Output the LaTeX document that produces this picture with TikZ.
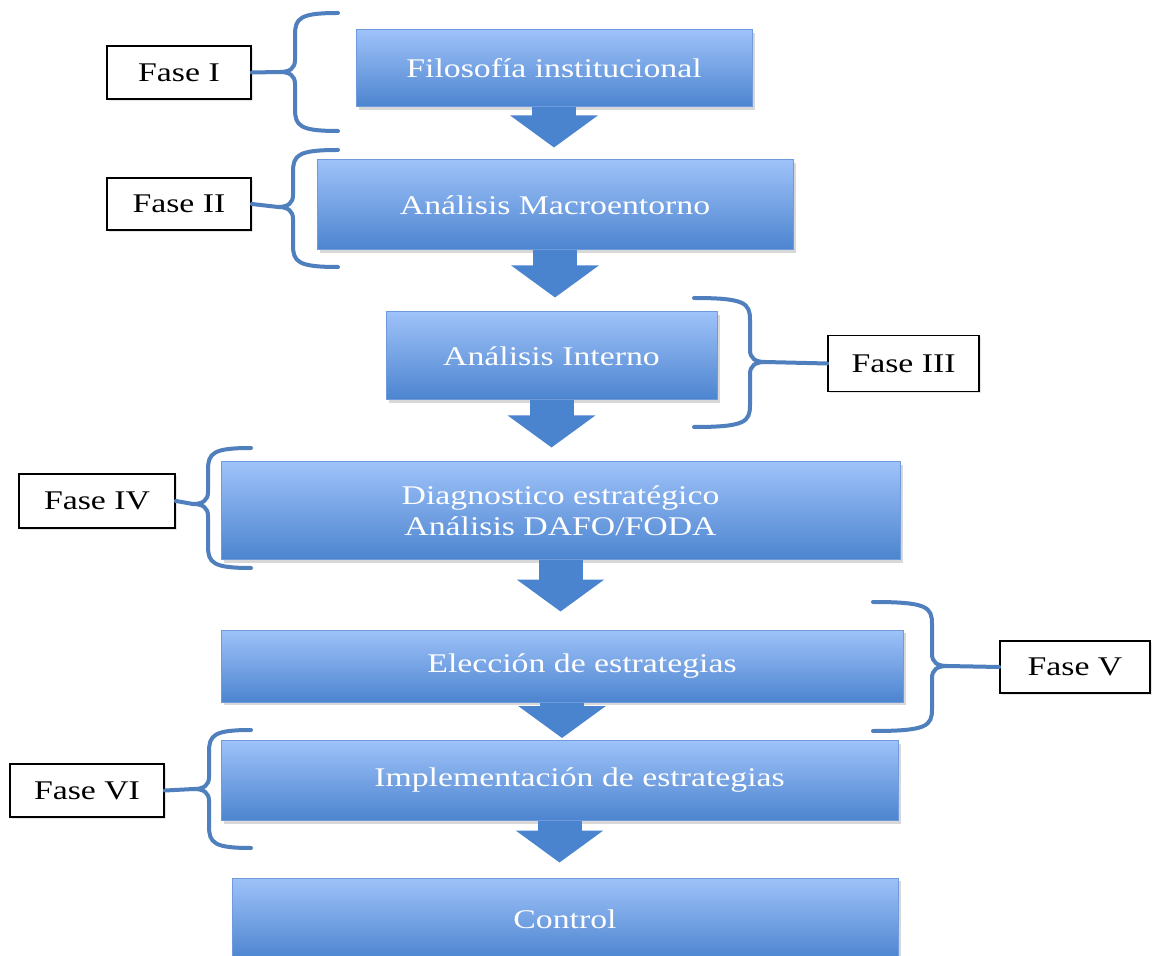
\documentclass[tikz,border=0pt]{standalone}
\usepackage{fontspec}
\setmainfont[FakeStretch=1.25]{Liberation Serif}
\usepackage{xcolor}
\usepackage{tikz}
\usetikzlibrary{arrows.meta,positioning,shadows}

\definecolor{boxtop}{HTML}{9EC2F9}
\definecolor{boxbot}{HTML}{4C84CF}
\definecolor{boxedge}{HTML}{6F9BDD}
\definecolor{flowblue}{HTML}{4A84CE}
\definecolor{braceblue}{HTML}{4F7FBD}

\begin{document}
\begin{tikzpicture}[x=0.5pt,y=-0.5pt,
  stage/.style={draw=boxedge,line width=0.5pt,top color=boxtop,bottom color=boxbot,
    text=white,font=\fontsize{13.5}{15.5}\selectfont,align=center,inner sep=0pt,
    drop shadow={opacity=0.3,shadow xshift=1.5pt,shadow yshift=-1.5pt}},
  fase/.style={draw=black,line width=0.9pt,fill=white,font=\fontsize{13.5}{15.5}\selectfont,
    inner sep=0pt,drop shadow={opacity=0.2,shadow xshift=1pt,shadow yshift=-1pt}},
  flow/.style={flowblue,line width=22pt,-{Triangle[width=43pt,length=16pt]}},
  brace/.style={braceblue,line width=2pt,line cap=round}]
  \path[use as bounding box,fill=white] (0,0) rectangle (1156,956);

  % stages
  \node[stage,minimum width=198pt,minimum height=38.5pt] (filo) at (554,68.5) {Filosofía institucional};
  \node[stage,minimum width=238pt,minimum height=45pt] (macro) at (555,205) {Análisis Macroentorno};
  \node[stage,minimum width=165.5pt,minimum height=44pt] (interno) at (551.5,356) {Análisis Interno};
  \node[stage,minimum width=339.5pt,minimum height=49pt] (diag) at (560.5,511) {Diagnostico estratégico\\Análisis DAFO/FODA};
  \node[stage,minimum width=341pt,minimum height=36pt] (elec) at (562,666) {\hspace*{20pt}Elección de estrategias};
  \node[stage,minimum width=338.5pt,minimum height=40pt] (impl) at (559.5,780.5) {\hspace*{20pt}Implementación de estrategias};
  \node[stage,minimum width=333pt,minimum height=41pt] (ctrl) at (565,919) {Control};

  \draw[flow,shorten >=6pt] (filo.south) -- (filo.south |- macro.north);
  \draw[flow,shorten >=7pt] (macro.south) -- (macro.south |- interno.north);
  \draw[flow,shorten >=7pt] (interno.south) -- (interno.south |- diag.north);
  \draw[flow,shorten >=9pt] (diag.south) -- (diag.south |- elec.north);
  \draw[flow,shorten >=1pt] (elec.south) -- (elec.south |- impl.north);
  \draw[flow,shorten >=7.5pt] (impl.south) -- (impl.south |- ctrl.north);

  % phases
  \node[fase,minimum width=72pt,minimum height=26.5pt] (f1) at (179,72.5) {Fase I};
  \node[fase,minimum width=72pt,minimum height=26pt] (f2) at (179,204) {Fase II};
  \node[fase,minimum width=75.5pt,minimum height=28pt] (f3) at (903.5,363.5) {Fase III};
  \node[fase,minimum width=78pt,minimum height=27pt] (f4) at (97,501) {Fase IV};
  \node[fase,minimum width=75pt,minimum height=26pt] (f5) at (1075,667) {Fase V};
  \node[fase,minimum width=77pt,minimum height=26.5pt] (f6) at (87,790.5) {Fase VI};

  \coordinate (t1) at (280,72);
  \draw[brace] (338,13) .. controls (300,13) and (295,18) .. (295,35) -- (295,60) .. controls (295,68) and (290,72) .. (t1);
  \draw[brace] (338,131) .. controls (300,131) and (295,126) .. (295,109) -- (295,84) .. controls (295,76) and (290,72) .. (t1);
  \draw[brace] (t1) -- (f1.east);

  \coordinate (t2) at (278,207);
  \draw[brace] (338,150) .. controls (298,150) and (293,155) .. (293,172) -- (293,195) .. controls (293,203) and (288,207) .. (t2);
  \draw[brace] (338,267) .. controls (298,267) and (293,262) .. (293,245) -- (293,219) .. controls (293,211) and (288,207) .. (t2);
  \draw[brace] (t2) -- (f2.east);

  \coordinate (t3) at (765,362);
  \draw[brace] (694,298) .. controls (745,298) and (750,303) .. (750,320) -- (750,350) .. controls (750,358) and (755,362) .. (t3);
  \draw[brace] (694,427) .. controls (745,427) and (750,422) .. (750,405) -- (750,374) .. controls (750,366) and (755,362) .. (t3);
  \draw[brace] (t3) -- (f3.west);

  \coordinate (t4) at (193,504);
  \draw[brace] (251,448) .. controls (213,448) and (208,453) .. (208,470) -- (208,492) .. controls (208,500) and (203,504) .. (t4);
  \draw[brace] (251,568) .. controls (213,568) and (208,563) .. (208,546) -- (208,516) .. controls (208,508) and (203,504) .. (t4);
  \draw[brace] (t4) -- (f4.east);

  \coordinate (t5) at (947,666);
  \draw[brace] (873,602) .. controls (927,602) and (932,607) .. (932,624) -- (932,654) .. controls (932,662) and (937,666) .. (t5);
  \draw[brace] (873,731) .. controls (927,731) and (932,726) .. (932,709) -- (932,678) .. controls (932,670) and (937,666) .. (t5);
  \draw[brace] (t5) -- (f5.west);

  \coordinate (t6) at (194,789);
  \draw[brace] (251,730) .. controls (214,730) and (209,735) .. (209,752) -- (209,777) .. controls (209,785) and (204,789) .. (t6);
  \draw[brace] (251,848) .. controls (214,848) and (209,843) .. (209,826) -- (209,801) .. controls (209,793) and (204,789) .. (t6);
  \draw[brace] (t6) -- (f6.east);
\end{tikzpicture}
\end{document}
